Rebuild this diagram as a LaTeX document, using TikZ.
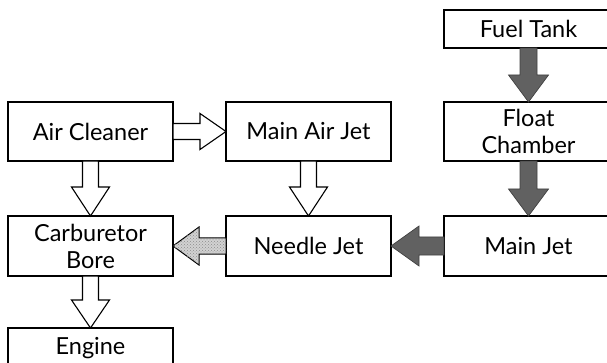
\documentclass[tikz,border=0pt]{standalone}
\usepackage{fontspec}
\setmainfont{Lato}
\usetikzlibrary{patterns}

\tikzset{
  unit/.style={draw, line width=1.4pt, outer sep=0pt, minimum width=165pt, minimum height=59pt, align=center, font=\fontsize{23.5}{27}\selectfont},
  airflow/.style={draw=black, line width=1.1pt, fill=white},
  fuelflow/.style={draw=black!75, line width=0.7pt, fill=black!62},
  mixflow/.style={draw=black, line width=1pt, fill=gray!35, postaction={pattern=crosshatch dots, pattern color=black!45}},
}

\begin{document}
\begin{tikzpicture}[x=1pt, y=-1pt]
    \path[use as bounding box, clip] (0,0) rectangle (607,363);

    % Air side
    \node[unit] (cleaner) at (90.5,131.5) {Air Cleaner};
    \node[unit] (airjet) at (308.5,131.5) {Main Air Jet};
    \node[unit, minimum height=60pt] (bore) at (90.5,246) {Carburetor\\Bore};
    \node[unit, minimum height=60pt] (needle) at (308.5,246) {Needle Jet};
    \node[unit, minimum height=40pt] (engine) at (90.5,348) {Engine};

    % Fuel side
    \node[unit, minimum width=169pt, minimum height=38pt] (tank) at (528.5,29) {Fuel Tank};
    \node[unit, minimum width=169pt] (chamber) at (528.5,131.5) {Float\\Chamber};
    \node[unit, minimum width=169pt, minimum height=60pt] (mainjet) at (528.5,246) {Main Jet};

    % Air arrows
    \draw[airflow] (cleaner.east) ++(0,-8) -- ++(27,0) -- ++(0,-10) -- (airjet.west) -- ++(-26,18) -- ++(0,-10) -- ++(-27,0) -- cycle;
    \draw[airflow] (cleaner.south) ++(-8,0) -- ++(0,26) -- ++(-11,0) -- (bore.north) -- ++(19,-29) -- ++(-11,0) -- ++(0,-26) -- cycle;
    \draw[airflow] (airjet.south) ++(-8,0) -- ++(0,26) -- ++(-11,0) -- (needle.north) -- ++(19,-29) -- ++(-11,0) -- ++(0,-26) -- cycle;
    \draw[airflow] (bore.south) ++(-8,0) -- ++(0,24) -- ++(-11,0) -- (engine.north) -- ++(19,-28) -- ++(-11,0) -- ++(0,-24) -- cycle;

    % Fuel arrows
    \draw[fuelflow] (tank.south) ++(-8.5,0) -- ++(0,27) -- ++(-11.5,0) -- (chamber.north) -- ++(20,-27) -- ++(-11.5,0) -- ++(0,-27) -- cycle;
    \draw[fuelflow] (chamber.south) ++(-8.5,0) -- ++(0,28) -- ++(-11.5,0) -- (mainjet.north) -- ++(20,-27) -- ++(-11.5,0) -- ++(0,-28) -- cycle;
    \draw[fuelflow] (mainjet.west) ++(0,-9) -- ++(-25,0) -- ++(0,-11) -- (needle.east) -- ++(28,20) -- ++(0,-11) -- ++(25,0) -- cycle;

    % Mixture arrow
    \draw[mixflow] (needle.west) ++(0,-8) -- ++(-27,0) -- ++(0,-11) -- (bore.east) -- ++(26,19) -- ++(0,-11) -- ++(27,0) -- cycle;
\end{tikzpicture}
\end{document}
